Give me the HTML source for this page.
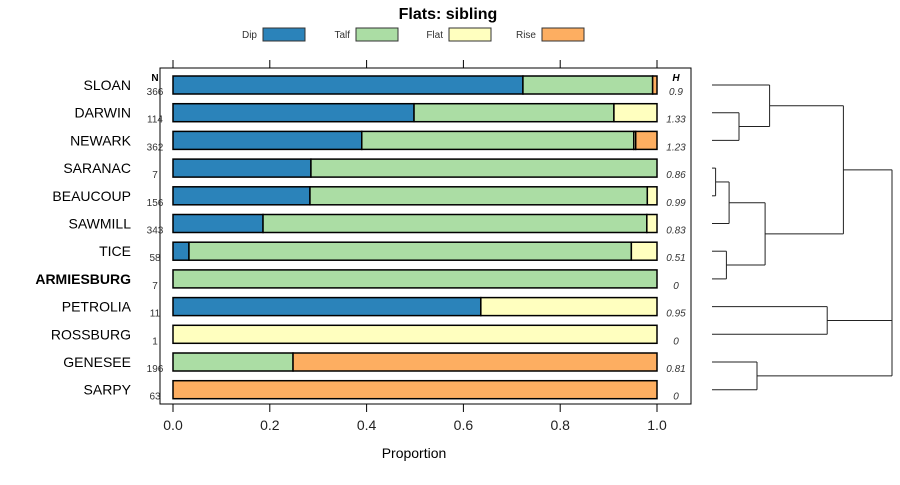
<!DOCTYPE html>
<html><head><meta charset="utf-8"><style>
body{margin:0;background:#fff}
svg{font-family:"Liberation Sans",sans-serif}
</style></head><body>
<svg id="c" width="900" height="480" xmlns="http://www.w3.org/2000/svg">
<text x="448" y="19" text-anchor="middle" font-size="16" font-weight="bold">Flats: sibling</text>
<rect x="160" y="68" width="531" height="336" fill="none" stroke="#000" stroke-width="1"/>
<text x="155" y="81" text-anchor="middle" font-size="10" font-weight="bold">N</text>
<text x="676" y="81" text-anchor="middle" font-size="10" font-weight="bold" font-style="italic">H</text>
<text x="414" y="458" text-anchor="middle" font-size="14">Proportion</text>
<g id="legend"></g><g id="bars"></g><g id="axis"></g><g id="dendro"></g>
</svg>
<script>
const rows=["SLOAN","DARWIN","NEWARK","SARANAC","BEAUCOUP","SAWMILL","TICE","ARMIESBURG","PETROLIA","ROSSBURG","GENESEE","SARPY"];
const nVals=[366,114,362,7,156,343,58,7,11,1,196,63];
const hVals=["0.9","1.33","1.23","0.86","0.99","0.83","0.51","0","0.95","0","0.81","0"];
const categories=["Dip","Talf","Flat","Rise"];
const dip=[0.723,0.498,0.39,0.285,0.283,0.186,0.033,0,0.636,0,0,0];
const talf=[0.268,0.413,0.562,0.715,0.697,0.793,0.914,1,0,0,0.248,0];
const flat=[0,0.089,0.004,0,0.02,0.021,0.053,0,0.364,1,0,0];
const rise=[0.009,0,0.044,0,0,0,0,0,0,0,0.752,1];
const ticks=[0,0.2,0.4,0.6,0.8,1.0];
const tickLabels=["0.0","0.2","0.4","0.6","0.8","1.0"];
// dendrogram leaves [leaf index, leaf index, merge height] and merges [height, pos1, pos2, parent height]
const dendroH=[[0,0,0.32],[1,1,0.15],[2,2,0.15],[3,3,0.02],[4,4,0.02],[5,5,0.095],[6,6,0.08],[7,7,0.08],[8,8,0.64],[9,9,0.64],[10,10,0.25],[11,11,0.25]];
const merges=[[0.15,1,2,0.32],[0.32,0,1.5,0.73],[0.02,3,4,0.095],[0.095,3.5,5,0.295],[0.08,6,7,0.295],[0.295,4.25,6.5,0.73],[0.73,0.75,5.375,1],[0.64,8,9,1],[0.25,10,11,1],[1,3.06,10.5,1]];
const colors=["#2b83ba","#abdda4","#ffffbf","#fdae61"];
const NS="http://www.w3.org/2000/svg";
const xs=v=>173+v*484;
const ys=i=>85+i*27.7;
const dx=h=>712+h*180;
function mk(t,a,p){const e=document.createElementNS(NS,t);for(const k in a)e.setAttribute(k,a[k]);p.appendChild(e);return e;}
const lg=document.getElementById('legend');
categories.forEach((c,i)=>{
 const x=263+i*93;
 const t=mk('text',{x:x-6,y:38,'text-anchor':'end','font-size':10,fill:'#333'},lg);t.textContent=c;
 
 
 const r=mk('rect',{x:x,y:28,width:42,height:13,fill:colors[i],stroke:'#333','stroke-width':1},lg);
 
 
});
const bg=document.getElementById('bars');
const series=[dip,talf,flat,rise];
rows.forEach((r,i)=>{
 const y=ys(i);
 const lab=mk('text',{x:131,y:y+5,'text-anchor':'end','font-size':14,'font-weight':r==="ARMIESBURG"?'bold':'normal'},bg);lab.textContent=r;
 
 
 const n=mk('text',{x:155,y:y+10,'text-anchor':'middle','font-size':10,fill:'#333'},bg);n.textContent=nVals[i];
 
 
 const h=mk('text',{x:676,y:y+10,'text-anchor':'middle','font-size':10,'font-style':'italic',fill:'#333'},bg);h.textContent=hVals[i];
 
 
 let cum=0;
 series.forEach((s,k)=>{
  const v=s[i];if(v<=0)return;
  const b=mk('rect',{x:xs(cum),y:y-9,width:v*484,height:18,fill:colors[k],stroke:'#000','stroke-width':1.5},bg);
  
  
  cum+=v;
 });
});
const ax=document.getElementById('axis');
ticks.forEach((t,i)=>{
 const x=xs(t);
 const a=mk('line',{x1:x,y1:60,x2:x,y2:68,stroke:'#000'},ax);
 
 
 const b=mk('line',{x1:x,y1:404,x2:x,y2:412,stroke:'#000'},ax);
 
 
 const l=mk('text',{x:x,y:430,'text-anchor':'middle','font-size':14,fill:'#222'},ax);l.textContent=tickLabels[i];
 
 
});
const dg=document.getElementById('dendro');
dendroH.forEach(([a,idx,h])=>{
 const ln=mk('line',{x1:712,y1:ys(idx),x2:dx(h),y2:ys(idx),stroke:'#222'},dg);
 
 
});
merges.forEach(([h,p1,p2,ph])=>{
 const x=dx(h),y1=ys(p1),y2=ys(p2);
 const v=mk('line',{x1:x,y1:y1,x2:x,y2:y2,stroke:'#222'},dg);
 
 
 const hl=mk('line',{x1:x,y1:(y1+y2)/2,x2:dx(ph),y2:(y1+y2)/2,stroke:'#222'},dg);
 
 
});
</script>
</body></html>
